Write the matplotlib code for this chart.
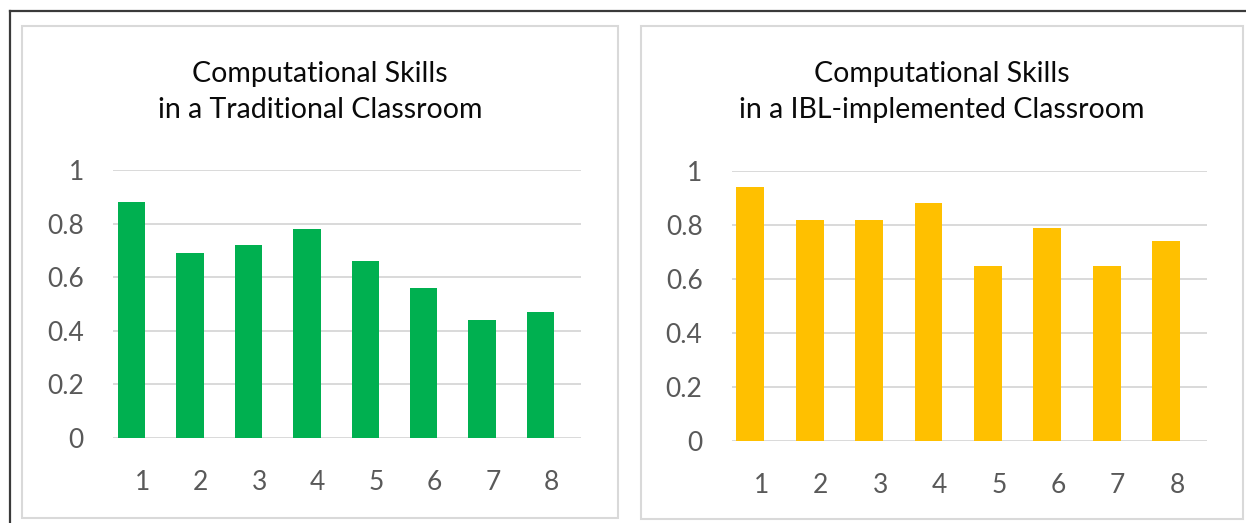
import numpy as np
import matplotlib
matplotlib.use("Agg")
import matplotlib.pyplot as plt
from matplotlib.patches import Rectangle
from matplotlib.lines import Line2D

# Data
items = ["1", "2", "3", "4", "5", "6", "7", "8"]
traditional = [0.88, 0.69, 0.72, 0.78, 0.66, 0.56, 0.44, 0.47]
ibl = [0.94, 0.82, 0.82, 0.88, 0.65, 0.79, 0.65, 0.74]
yticks = [0, 0.2, 0.4, 0.6, 0.8, 1]
ytick_labels = ["0", "0.2", "0.4", "0.6", "0.8", "1"]

titles = ["Computational Skills\nin a Traditional Classroom",
          "Computational Skills\nin a IBL-implemented Classroom"]

plt.rcParams['font.family'] = ['Lato', 'DejaVu Sans']

W, H = 1246, 523
fig = plt.figure(figsize=(W / 100, H / 100), dpi=100)
fig.patch.set_facecolor("white")

def fx(px):
    return px / W

def fy(py):
    return 1 - py / H

# outer frame (top and left edges only are visible)
fig.add_artist(Line2D([fx(10), 1], [fy(10.5), fy(10.5)], color="#3a3a3a", lw=1.6))
fig.add_artist(Line2D([fx(10), fx(10)], [fy(10.5), 0], color="#3a3a3a", lw=1.6))

# panel boxes: (x0, y0, x1, y1) in pixels
panels = [(22, 26, 618, 518), (641, 26, 1243, 519)]
for x0, y0, x1, y1 in panels:
    fig.add_artist(Rectangle((fx(x0), fy(y1)), fx(x1 - x0), (y1 - y0) / H,
                             transform=fig.transFigure, fill=False,
                             edgecolor="#d9d9d9", lw=1.5))

# axes rectangles (x0, ytop, x1, ybottom) in pixels
axes_px = [(113, 170, 580.7, 438), (731.7, 171, 1206.7, 441)]
series = [traditional, ibl]
colors = ["#00b050", "#ffc000"]

x = np.arange(len(items))
for i in range(2):
    x0, yt, x1, yb = axes_px[i]
    ax = fig.add_axes([fx(x0), fy(yb), fx(x1 - x0), (yb - yt) / H])
    # bars sit a bit left of the category centre in the original
    ax.bar(x - 0.42, series[i], width=0.47, align="edge", color=colors[i], zorder=3)
    ax.set_xlim(-0.5, len(items) - 0.5)
    ax.set_ylim(0, 1)
    ax.set_yticks(yticks)
    ax.set_yticklabels(ytick_labels)
    ax.set_xticks(x)
    ax.set_xticklabels(items)
    ax.grid(axis="y", color="#d9d9d9", lw=1.4, zorder=0)
    for s in ax.spines.values():
        s.set_visible(False)
    ax.tick_params(length=0, labelsize=19, colors="#595959")
    ax.tick_params(axis="y", pad=21)
    ax.tick_params(axis="x", pad=23)
    ax.set_facecolor("none")

    px0, py0, px1, py1 = panels[i]
    fig.text(fx((px0 + px1) / 2), fy(92), titles[i], ha="center", va="center",
             fontsize=20.5, color="#0a0a0a", linespacing=1.45)

fig.savefig("out.png", dpi=100, facecolor="white")
